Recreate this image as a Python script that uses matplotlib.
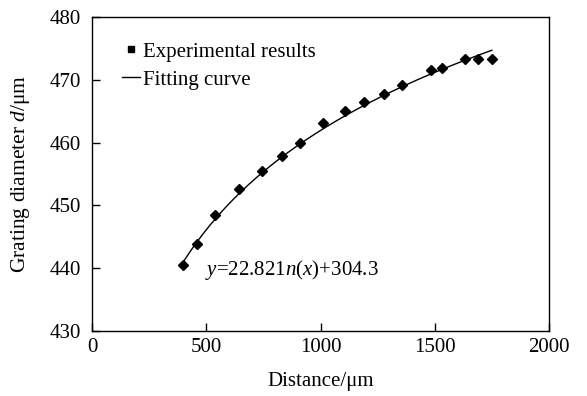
import numpy as np
import matplotlib
matplotlib.use("Agg")
import matplotlib.pyplot as plt
from matplotlib.lines import Line2D

plt.rcParams['font.family'] = ['Liberation Serif', 'DejaVu Serif']
plt.rcParams['mathtext.fontset'] = 'custom'
plt.rcParams['mathtext.rm'] = 'Liberation Serif'
plt.rcParams['mathtext.it'] = 'Liberation Serif:italic'

distance = [400, 458, 540, 645, 745, 831, 912, 1010, 1107, 1190, 1278, 1357,
            1485, 1530, 1634, 1691, 1751]
diameter = [440.5, 443.8, 448.5, 452.6, 455.4, 457.8, 460.0, 463.1, 465.0, 466.5,
            467.8, 469.1, 471.6, 471.9, 473.3, 473.3, 473.3]
fit_a = 22.82
fit_b = 304.3
fit_range = [400, 1750]
xticks = [0, 500, 1000, 1500, 2000]
yticks = [430, 440, 450, 460, 470, 480]

FS = 15

fig = plt.figure(figsize=(5.87, 3.96), dpi=100)
ax = fig.add_axes([92/587, 1-331/396, (549-92)/587, (331-17)/396])

xf = np.linspace(fit_range[0], fit_range[1], 200)
ax.plot(xf, fit_a*np.log(xf) + fit_b, color='black', lw=1.0)
ax.plot(distance, diameter, linestyle='none', marker='D', color='black', ms=4.8)

ax.set_xlim(0, 2000)
ax.set_ylim(430, 480)
ax.set_xticks(xticks)
ax.set_yticks(yticks)
ax.tick_params(direction='in', length=6, width=1, labelsize=FS)
ax.tick_params(axis='x', pad=5)
ax.tick_params(axis='y', pad=8)
for s in ax.spines.values():
    s.set_linewidth(1.0)

ax.set_xlabel('Distance/μm', fontsize=FS)
ax.set_ylabel(r'Grating diameter $\mathit{d}$/μm', fontsize=15.5)
ax.xaxis.set_label_coords(0.5, -(372-331)/314, transform=ax.transAxes)
ax.yaxis.set_label_coords(-(92-32)/457, 0.5, transform=ax.transAxes)

handles = [Line2D([], [], linestyle='none', marker='s', color='black', ms=4.2),
           Line2D([], [], color='black', lw=1.0)]
ax.legend(handles, ['Experimental results', 'Fitting curve'], loc='upper left',
          frameon=False, fontsize=FS, handlelength=0.87, handletextpad=0.15,
          labelspacing=0.4, borderpad=0, borderaxespad=0,
          bbox_to_anchor=(30/457, 0.92))

ax.text(495, 439.7, r'$\mathit{y}$=22.821$\mathit{n}$($\mathit{x}$)+304.3', fontsize=FS,
        ha='left', va='center')

fig.savefig('out.png', dpi=100)
